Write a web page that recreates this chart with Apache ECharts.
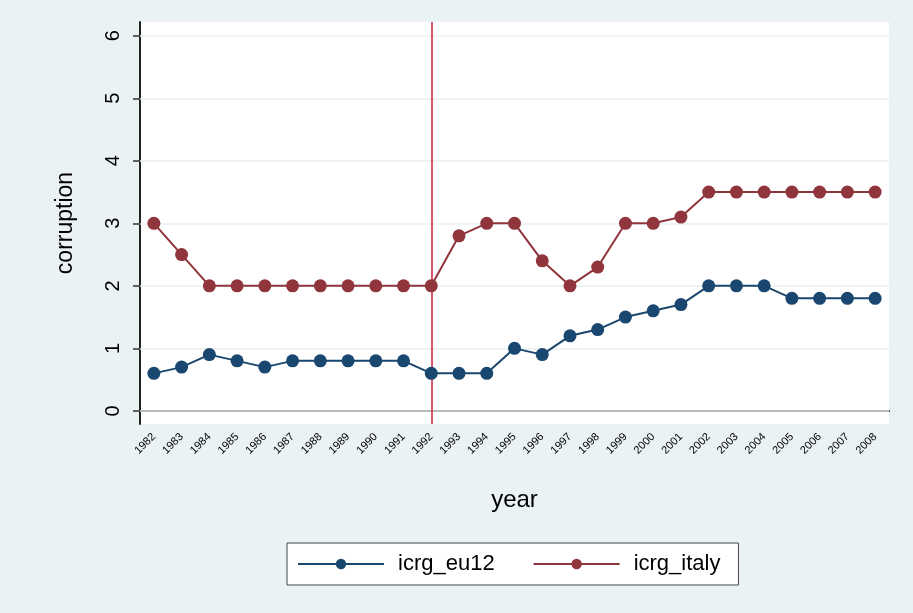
<!DOCTYPE html>
<html>
<head>
<meta charset="utf-8">
<script src="https://cdn.jsdelivr.net/npm/echarts@6/dist/echarts.min.js"></script>
<style>
  html, body { margin: 0; padding: 0; background: #eaf2f3; }
  #chart { width: 913px; height: 613px; }
</style>
</head>
<body>
<div id="chart"></div>
<script>
const years = ['1982', '1983', '1984', '1985', '1986', '1987', '1988', '1989', '1990',
  '1991', '1992', '1993', '1994', '1995', '1996', '1997', '1998', '1999', '2000',
  '2001', '2002', '2003', '2004', '2005', '2006', '2007', '2008']
const icrgEu12 = [0.6, 0.7, 0.9, 0.8, 0.7, 0.8, 0.8, 0.8, 0.8, 0.8, 0.6, 0.6, 0.6, 1.0,
  0.9, 1.2, 1.3, 1.5, 1.6, 1.7, 2.0, 2.0, 2.0, 1.8, 1.8, 1.8, 1.8]
const icrgItaly = [3, 2.5, 2, 2, 2, 2, 2, 2, 2, 2, 2, 2.8, 3, 3, 2.4, 2, 2.3, 3, 3, 3.1,
  3.5, 3.5, 3.5, 3.5, 3.5, 3.5, 3.5]
const yTicks = [0, 1, 2, 3, 4, 5, 6]
const breakYear = '1992'

const font = 'Liberation Sans, Arial, sans-serif'
const chart = echarts.init(document.getElementById('chart'))

chart.setOption({
  backgroundColor: '#eaf2f3',
  animation: false,
  textStyle: { fontFamily: font },
  grid: {
    left: 140, right: 24, top: 22, bottom: 189,
    show: true, backgroundColor: '#ffffff', borderWidth: 0
  },
  legend: {
    bottom: 28,
    left: 287,
    itemWidth: 86,
    itemHeight: 13,
    itemGap: 38,
    padding: [10, 18, 10, 10],
    backgroundColor: '#ffffff',
    borderColor: '#444',
    borderWidth: 1,
    textStyle: { fontSize: 22, color: '#000', fontFamily: font, padding: [0, 0, 0, 9] },
    data: ['icrg_eu12', 'icrg_italy']
  },
  xAxis: {
    type: 'category',
    data: years,
    name: 'year',
    nameLocation: 'middle',
    nameGap: 64,
    nameTextStyle: { fontSize: 24, color: '#000' },
    axisLine: { lineStyle: { color: '#222', width: 2 } },
    axisTick: { alignWithLabel: true, length: 7, lineStyle: { color: '#333', width: 1.5 } },
    axisLabel: { rotate: 45, fontSize: 11, color: '#000', margin: 11, interval: 0 },
    splitLine: { show: false }
  },
  yAxis: {
    type: 'value',
    min: -0.21,
    max: 6.22,
    name: 'corruption',
    nameLocation: 'middle',
    nameGap: 63,
    nameTextStyle: { fontSize: 23, color: '#000' },
    axisLine: { show: true, lineStyle: { color: '#222', width: 2 } },
    axisTick: { show: true, length: 7, customValues: yTicks, lineStyle: { color: '#333', width: 1.5 } },
    axisLabel: { rotate: 90, fontSize: 20, color: '#000', margin: 17, customValues: yTicks },
    splitLine: { show: false }
  },
  series: [
    {
      name: 'icrg_eu12',
      type: 'line',
      data: icrgEu12,
      symbol: 'circle',
      symbolSize: 13,
      color: '#1a476f',
      lineStyle: { width: 2 },
      z: 3
    },
    {
      name: 'icrg_italy',
      type: 'line',
      data: icrgItaly,
      symbol: 'circle',
      symbolSize: 13,
      color: '#90353b',
      lineStyle: { width: 2 },
      z: 3
    },
    {
      // grid lines and the 1992 marker
      type: 'line',
      data: [],
      silent: true,
      z: 1,
      markLine: {
        silent: true,
        z: 1,
        symbol: 'none',
        label: { show: false },
        animation: false,
        data: yTicks.map((v) => ({ yAxis: v, lineStyle: { color: '#e9f1f1', width: 1.5, type: 'solid' } }))
          .concat([{ xAxis: breakYear, lineStyle: { color: '#c4203a', width: 1.5, type: 'solid' } }])
      }
    }
  ]
})
</script>
</body>
</html>
